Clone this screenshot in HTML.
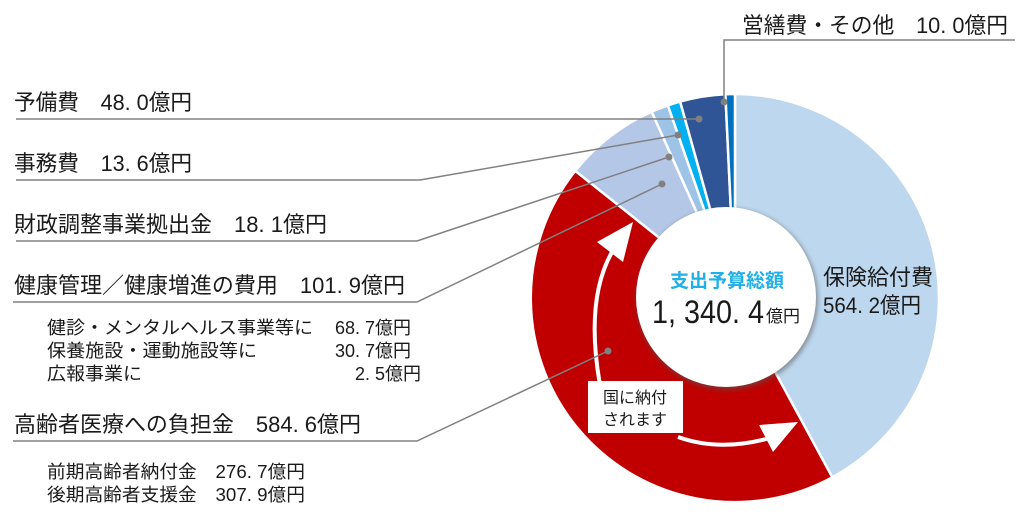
<!DOCTYPE html>
<html><head><meta charset="utf-8"><style>
html,body{margin:0;padding:0;background:#fff;}
body{width:1024px;height:517px;overflow:hidden;}
svg text{font-family:"Liberation Sans","Noto Sans CJK JP",sans-serif;fill:#1a1a1a;}
</style></head><body>
<svg width="1024" height="517" viewBox="0 0 1024 517" xmlns="http://www.w3.org/2000/svg">
<defs>
<filter id="sh" x="-20%" y="-20%" width="140%" height="140%"><feGaussianBlur stdDeviation="2.5"/></filter>
</defs>
<g stroke="#fff" stroke-width="2.5" stroke-linejoin="round">
<path d="M735,298 L735,94 A204,204 0 0 1 832.3,477.3 Z" fill="#bdd7ee"/>
<path d="M735,298 L832.3,477.3 A204,204 0 0 1 575.3,170.9 Z" fill="#c00000"/>
<path d="M735,298 L575.3,170.9 A204,204 0 0 1 651.7,111.7 Z" fill="#b4c7e7"/>
<path d="M735,298 L651.7,111.7 A204,204 0 0 1 667.9,105.4 Z" fill="#9dc3e6"/>
<path d="M735,298 L667.9,105.4 A204,204 0 0 1 680.1,101.5 Z" fill="#00b0f0"/>
<path d="M735,298 L680.1,101.5 A204,204 0 0 1 725.4,94.2 Z" fill="#2f5597"/>
<path d="M735,298 L725.4,94.2 A204,204 0 0 1 735,94 Z" fill="#0070c0"/>
</g>
<circle cx="727" cy="299" r="91" fill="#555" opacity="0.55" filter="url(#sh)"/>
<circle cx="726" cy="297" r="90" fill="#fff"/>
<g fill="none" stroke="#fff" stroke-width="4">
<path d="M612,252 Q585,300 600,385"/>
<path d="M678,437 Q720,452 770,438"/>
</g>
<polygon points="633,222 597,242 623,262" fill="#fff"/>
<polygon points="798,422 759,425 773,452" fill="#fff"/>
<rect x="588" y="381" width="95" height="52" fill="#fff"/>
<text x="635" y="403" font-size="16" text-anchor="middle">国に納付</text>
<text x="635" y="425" font-size="16" text-anchor="middle">されます</text>
<text x="727" y="287" font-size="19" font-weight="bold" text-anchor="middle" style="fill:#1fb0e8">支出予算総額</text>
<text x="652" y="323" font-size="32" textLength="112" lengthAdjust="spacingAndGlyphs">1, 340. 4</text>
<text x="766" y="322" font-size="17">億円</text>
<text x="823" y="285" font-size="22">保険給付費</text>
<text x="823" y="313" font-size="22" textLength="98" lengthAdjust="spacingAndGlyphs">564. 2億円</text>
<g fill="none" stroke="#808080" stroke-width="1.5">
<polyline points="16,119 699,119"/>
<polyline points="16,180 420,180 678,135"/>
<polyline points="16,241 417,241 669,157"/>
<polyline points="13,302 417,302 662,184"/>
<polyline points="13,441 417,441 608,351"/>
<polyline points="724,102 724,40 1015,40"/>
</g>
<g fill="#808080">
<circle cx="699" cy="119" r="3.5"/><circle cx="678" cy="135" r="3.5"/><circle cx="669" cy="157" r="3.5"/>
<circle cx="662" cy="184" r="3.5"/><circle cx="608" cy="351" r="3.5"/><circle cx="724" cy="102" r="3.5"/>
</g>
<text x="742" y="33" font-size="22" textLength="266" lengthAdjust="spacingAndGlyphs">営繕費・その他　10. 0億円</text>
<text x="14" y="110" font-size="22" textLength="178" lengthAdjust="spacingAndGlyphs">予備費　48. 0億円</text>
<text x="14" y="171" font-size="22" textLength="178" lengthAdjust="spacingAndGlyphs">事務費　13. 6億円</text>
<text x="14" y="232" font-size="22" textLength="313" lengthAdjust="spacingAndGlyphs">財政調整事業拠出金　18. 1億円</text>
<text x="14" y="293" font-size="22" textLength="391" lengthAdjust="spacingAndGlyphs">健康管理／健康増進の費用　101. 9億円</text>
<text x="47" y="334" font-size="18" textLength="266" lengthAdjust="spacingAndGlyphs">健診・メンタルヘルス事業等に</text>
<text x="411" y="334" font-size="18" text-anchor="end">68. 7億円</text>
<text x="47" y="357" font-size="18" textLength="210" lengthAdjust="spacingAndGlyphs">保養施設・運動施設等に</text>
<text x="411" y="357" font-size="18" text-anchor="end">30. 7億円</text>
<text x="47" y="380" font-size="18" textLength="95" lengthAdjust="spacingAndGlyphs">広報事業に</text>
<text x="421" y="380" font-size="18" text-anchor="end">2. 5億円</text>
<text x="14" y="432" font-size="22" textLength="347" lengthAdjust="spacingAndGlyphs">高齢者医療への負担金　584. 6億円</text>
<text x="47" y="478" font-size="18" textLength="258" lengthAdjust="spacingAndGlyphs">前期高齢者納付金　276. 7億円</text>
<text x="47" y="501" font-size="18" textLength="258" lengthAdjust="spacingAndGlyphs">後期高齢者支援金　307. 9億円</text>
</svg>
</body></html>
